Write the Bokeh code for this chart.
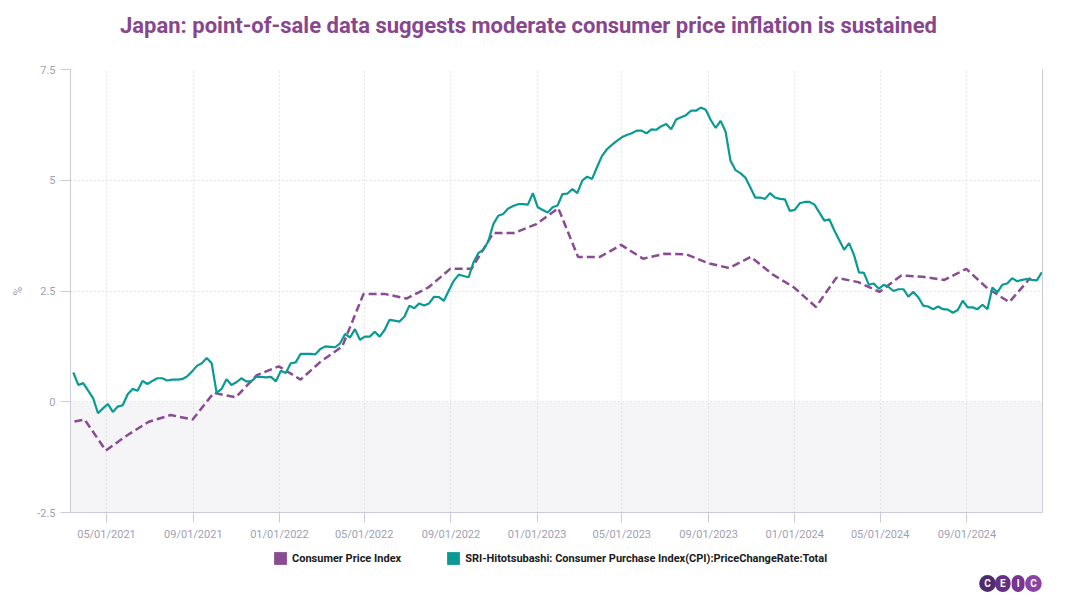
import pandas as pd
from bokeh.plotting import figure
from bokeh.layouts import column
from bokeh.models import (Range1d, FixedTicker, DatetimeTickFormatter, LinearAxis,
                          BoxAnnotation, Legend, LegendItem, Label)
from bokeh.embed import file_html
from bokeh.resources import INLINE

# ---------------- data ----------------
title_text = "Japan: point-of-sale data suggests moderate consumer price inflation is sustained"
cpi_label = "Consumer Price Index"
sri_label = "SRI-Hitotsubashi: Consumer Purchase Index(CPI):PriceChangeRate:Total"

# monthly CPI y/y (%), month-end, Feb 2021 .. Nov 2024
cpi_first_month = "2021-02-01"
cpi_values = [
    -0.5, -0.4, -1.1, -0.75, -0.45, -0.3, -0.4, 0.2, 0.1, 0.6, 0.8,
    0.5, 0.9, 1.25, 2.43, 2.43, 2.33, 2.58, 3.0, 3.0, 3.81, 3.81, 4.01,
    4.37, 3.27, 3.27, 3.54, 3.23, 3.34, 3.33, 3.13, 3.02, 3.27, 2.88, 2.58,
    2.14, 2.8, 2.7, 2.48, 2.85, 2.82, 2.75, 3.0, 2.56, 2.25, 2.8,
]

# weekly SRI-Hitotsubashi purchase index price change rate (%)
sri_first_week = "2021-03-15"
sri_values = [
    0.66, 0.38, 0.42, 0.25, 0.08, -0.26, -0.15, -0.05, -0.23, -0.11,
    -0.08, 0.17, 0.29, 0.25, 0.47, 0.40, 0.47, 0.53, 0.53, 0.48,
    0.50, 0.50, 0.51, 0.57, 0.68, 0.81, 0.87, 0.99, 0.87, 0.20,
    0.29, 0.51, 0.38, 0.44, 0.53, 0.46, 0.46, 0.56, 0.56, 0.55,
    0.56, 0.46, 0.70, 0.65, 0.87, 0.89, 1.08, 1.08, 1.08, 1.07,
    1.19, 1.25, 1.24, 1.23, 1.32, 1.53, 1.45, 1.64, 1.40, 1.47,
    1.47, 1.58, 1.47, 1.62, 1.85, 1.83, 1.81, 1.92, 2.17, 2.11,
    2.22, 2.17, 2.22, 2.37, 2.36, 2.28, 2.51, 2.73, 2.87, 2.84,
    2.81, 3.15, 3.36, 3.43, 3.63, 4.01, 4.20, 4.24, 4.36, 4.42,
    4.46, 4.46, 4.45, 4.71, 4.39, 4.33, 4.27, 4.39, 4.43, 4.69,
    4.70, 4.80, 4.71, 4.99, 5.08, 5.03, 5.30, 5.55, 5.70, 5.80,
    5.89, 5.97, 6.02, 6.06, 6.12, 6.12, 6.06, 6.15, 6.14, 6.22,
    6.27, 6.15, 6.37, 6.42, 6.47, 6.57, 6.57, 6.64, 6.59, 6.36,
    6.18, 6.34, 6.10, 5.44, 5.23, 5.16, 5.06, 4.84, 4.61, 4.61,
    4.58, 4.71, 4.61, 4.58, 4.57, 4.31, 4.33, 4.48, 4.51, 4.51,
    4.45, 4.27, 4.09, 4.12, 3.87, 3.65, 3.43, 3.58, 3.31, 2.92,
    2.91, 2.64, 2.67, 2.55, 2.64, 2.59, 2.50, 2.54, 2.54, 2.37,
    2.48, 2.36, 2.17, 2.15, 2.09, 2.15, 2.09, 2.08, 2.01, 2.07,
    2.28, 2.13, 2.13, 2.09, 2.19, 2.09, 2.58, 2.47, 2.64, 2.67,
    2.79, 2.72, 2.75, 2.77, 2.75, 2.74, 2.92,
]

x_tick_dates = ["2021-05-01", "2021-09-01", "2022-01-01", "2022-05-01", "2022-09-01",
                "2023-01-01", "2023-05-01", "2023-09-01", "2024-01-01", "2024-05-01",
                "2024-09-01"]
y_ticks = [-2.5, 0, 2.5, 5, 7.5]
y_tick_labels = ["-2.5", "0", "2.5", "5", "7.5"]
logo_letters = ["C", "E", "I", "C"]

# ---------------- styles ----------------
CPI_COLOR = "#8a4a94"
SRI_COLOR = "#0a9a94"
TITLE_COLOR = "#87468e"
AXIS_COLOR = "#cacad8"
TICK_TEXT = "#a0a0b4"
GRID_COLOR = "#cccccc"
NEG_FILL = "#f5f5f8"
LOGO_COLORS = ["#4d2b6f", "#652f83", "#763592", "#8a43a2"]
FONT = "Roboto"
W = 1072
FRAME_LEFT = 70   # strips share the main chart's frame edges
FRAME_RIGHT = 1042


def blank_fig(h):
    f = figure(width=W, height=h, output_backend="svg", toolbar_location=None,
               x_axis_location=None, y_axis_location=None,
               x_range=Range1d(0, 1), y_range=Range1d(0, 1), min_border=0)
    f.outline_line_color = None
    f.grid.visible = False
    return f


# ---------------- title strip ----------------
top = blank_fig(50)
top.add_layout(Label(x=528 - FRAME_LEFT, y=25, x_units="screen", y_units="screen", text=title_text,
                     text_font=FONT, text_font_size="22px", text_font_style="bold",
                     text_color=TITLE_COLOR, text_align="center", text_baseline="middle"))

# ---------------- main chart ----------------
cpi_dates = pd.date_range(cpi_first_month, periods=len(cpi_values), freq="MS") + pd.offsets.MonthEnd(1)
sri_dates = pd.date_range(sri_first_week, periods=len(sri_values), freq="7D")

x_start = sri_dates[0] - pd.Timedelta(days=4)
x_end = sri_dates[-1] + pd.Timedelta(days=1)

p = figure(width=W, height=495, x_axis_type="datetime",
           x_range=Range1d(x_start, x_end), y_range=Range1d(y_ticks[0], y_ticks[-1]),
           output_backend="svg", toolbar_location=None,
           min_border_left=FRAME_LEFT, min_border_right=W - FRAME_RIGHT,
           min_border_top=19, min_border_bottom=33)
p.outline_line_color = None
p.background_fill_color = "white"
p.border_fill_color = "white"

p.add_layout(BoxAnnotation(top=0, fill_color=NEG_FILL, fill_alpha=1.0,
                           line_color=None, level="image"))

xt = FixedTicker(ticks=[pd.Timestamp(d).value / 1e6 for d in x_tick_dates])
p.xaxis.ticker = xt
p.xgrid.ticker = xt
fmt = "%m/%d/%Y"
p.xaxis.formatter = DatetimeTickFormatter(milliseconds=fmt, seconds=fmt, minsec=fmt, minutes=fmt,
                                          hourmin=fmt, hours=fmt, days=fmt, months=fmt, years=fmt)
yt = FixedTicker(ticks=y_ticks)
p.yaxis.ticker = yt
p.ygrid.ticker = yt
p.yaxis.major_label_overrides = dict(zip(y_ticks, y_tick_labels))
p.yaxis.axis_label = "%"

for ax in (p.xaxis, p.yaxis):
    ax.axis_line_color = AXIS_COLOR
    ax.major_tick_line_color = AXIS_COLOR
    ax.major_tick_out = 10
    ax.major_tick_in = 0
    ax.minor_tick_line_color = None
    ax.major_label_text_color = TICK_TEXT
    ax.major_label_text_font = FONT
    ax.major_label_text_font_size = "11px"
    ax.major_label_standoff = 5
p.yaxis.axis_label_text_color = TICK_TEXT
p.yaxis.axis_label_text_font = FONT
p.yaxis.axis_label_text_font_size = "12px"
p.yaxis.axis_label_text_font_style = "normal"
p.yaxis.axis_label_standoff = 9

right_axis = LinearAxis(ticker=FixedTicker(ticks=[]), axis_line_color=AXIS_COLOR,
                        major_tick_line_color=None, minor_tick_line_color=None,
                        major_label_text_font_size="0px")
p.add_layout(right_axis, "right")

for g in (p.xgrid, p.ygrid):
    g.grid_line_color = GRID_COLOR
    g.grid_line_dash = "1 3"
    g.grid_line_width = 1

p.line(cpi_dates, cpi_values, line_color=CPI_COLOR, line_width=2.5, line_dash="8 4")
p.line(sri_dates, sri_values, line_color=SRI_COLOR, line_width=2.2)

# ---------------- legend + logo strip ----------------
bot = blank_fig(55)
# zero-size quads: only provide the legend swatch colours
sw_cpi = bot.quad(left=[0], right=[0], top=[0], bottom=[0], fill_color=CPI_COLOR, line_color=None)
sw_sri = bot.quad(left=[0], right=[0], top=[0], bottom=[0], fill_color=SRI_COLOR, line_color=None)
legend = Legend(items=[LegendItem(label=cpi_label, renderers=[sw_cpi]),
                       LegendItem(label=sri_label, renderers=[sw_sri])],
                orientation="horizontal", location=(272 - FRAME_LEFT, 32),
                glyph_width=16, glyph_height=16, label_standoff=4, spacing=44,
                padding=0, margin=0, border_line_color=None, background_fill_alpha=0,
                label_height=20, label_text_font=FONT, label_text_font_size="11px",
                label_text_font_style="bold", label_text_color="#1a1a1a")
bot.add_layout(legend, "center")

# logo (kept inside the strip's frame so it is not clipped)
for i, (ch, col) in enumerate(zip(logo_letters, LOGO_COLORS)):
    bot.add_layout(Label(x=987 - FRAME_LEFT + i * 15.3, y=17, x_units="screen", y_units="screen",
                         text=ch, text_font=FONT, text_font_size="10px", text_font_style="bold",
                         text_color="white", text_align="center", text_baseline="middle",
                         background_fill_color=col, border_radius=9,
                         padding=dict(left=5, right=5, top=3, bottom=3)))

layout = column(top, p, bot, spacing=0)
open("out.html", "w").write(file_html(layout, INLINE))
